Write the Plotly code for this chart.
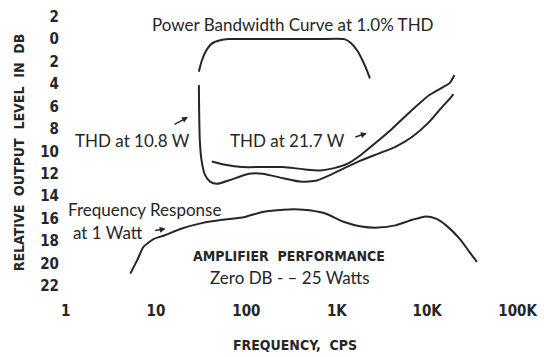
import math
import plotly.graph_objects as go

# Frequency response at 1 watt (Hz, dB below 25 W)
resp_freq = [5.2, 6.2, 7.3, 9.5, 12.3, 19, 32, 54, 90, 151, 255, 429, 720,
             1210, 1860, 2880, 4440, 6840, 9660, 12500, 16200, 22900, 29500, 35500]
resp_db = [20.9, 19.7, 18.5, 17.8, 17.5, 16.9, 16.4, 16.1, 15.9, 15.4, 15.2, 15.2, 15.5,
           16.3, 16.7, 16.8, 16.6, 16.1, 15.8, 16.0, 16.6, 17.8, 19.0, 19.85]

# Power bandwidth at 1.0% THD
pb_freq = [29.8, 31.9, 35.4, 41.4, 51.3, 63.8, 200, 600, 1210, 1440, 1710, 1950, 2180, 2320]
pb_db = [2.9, 2.0, 1.1, 0.4, 0.1, 0.0, 0.0, 0.0, 0.0, 0.36, 1.1, 2.0, 2.9, 3.5]

# THD at 10.8 W
thd10_freq = [29.8, 30.0, 30.5, 31.9, 34.8, 39.6, 47.1, 63.8, 107, 151, 255, 393, 603,
              851, 1210, 1860, 2880, 4440, 6840, 10470, 14800, 17800, 19500]
thd10_db = [4.1, 6.3, 9.0, 10.8, 12.1, 12.7, 12.9, 12.6, 12.0, 12.0, 12.4, 12.7, 12.6,
            12.1, 11.5, 10.8, 10.2, 9.6, 8.7, 7.4, 6.0, 5.3, 4.9]

# THD at 21.7 W
thd21_freq = [41.4, 58.5, 90, 151, 255, 429, 661, 933, 1318, 1860, 2630, 4070, 6840,
              10470, 14800, 17800, 20000]
thd21_db = [10.9, 11.2, 11.4, 11.4, 11.4, 11.6, 11.7, 11.5, 11.1, 10.3, 9.3, 8.0, 6.3,
            5.0, 4.3, 3.9, 3.2]

# Axis ticks
y_ticks = [-2, 0, 2, 4, 6, 8, 10, 12, 14, 16, 18, 20, 22]
y_labels = ["2", "0", "2", "4", "6", "8", "10", "12", "14", "16", "18", "20", "22"]
x_ticks = [1, 10, 100, 1000, 10000, 100000]
x_labels = ["1", "10", "100", "1K", "10K", "100K"]

INK = "#262626"
COND = "DejaVu Sans Condensed, Liberation Sans Narrow, Roboto, sans-serif"
ROUND = "Lato, Noto Sans, sans-serif"

fig = go.Figure()
line = dict(color=INK, width=2, shape="spline", smoothing=0.6)
for xs, ys in [(resp_freq, resp_db), (pb_freq, pb_db),
               (thd10_freq, thd10_db), (thd21_freq, thd21_db)]:
    fig.add_trace(go.Scatter(x=xs, y=ys, mode="lines", line=line,
                             hoverinfo="skip", showlegend=False))

# text labels placed at (frequency in Hz, dB)
notes = [
    ("Power Bandwidth Curve at 1.0% THD", 330, -1.3, ROUND, 17, "normal"),
    ("THD at 10.8 W", 5.55, 9.0, ROUND, 17, "normal"),
    ("THD at 21.7 W", 288, 9.0, ROUND, 17, "normal"),
    ("Frequency Response", 7.5, 15.2, ROUND, 17, "normal"),
    ("at 1 Watt", 2.95, 17.25, ROUND, 17, "normal"),
    ("AMPLIFIER  PERFORMANCE", 298, 19.3, COND, 14, "bold"),
    ("Zero DB - – 25 Watts", 305, 21.2, ROUND, 17, "normal"),
]
for text, f, db, fam, size, weight in notes:
    fig.add_annotation(x=math.log10(f), y=db, xref="x", yref="y", text=text,
                       showarrow=False,
                       font=dict(family=fam, size=size, color=INK, weight=weight))

# small pointer arrows next to the labels
for f, db, ax, ay in [(22.6, 6.95, -15, 8), (2150, 8.4, -13, 4), (12.8, 16.9, -12, 2)]:
    fig.add_annotation(x=math.log10(f), y=db, xref="x", yref="y", ax=ax, ay=ay, text="",
                       showarrow=True, arrowhead=2, arrowsize=0.8, arrowwidth=1.5,
                       arrowcolor=INK)

tick_font = dict(family=COND, size=15, color=INK, weight="bold")
title_font = dict(family=COND, size=14, color=INK, weight="bold")
fig.update_layout(
    width=544, height=357,
    margin=dict(l=60, r=14, t=5, b=57),
    paper_bgcolor="white", plot_bgcolor="white",
    xaxis=dict(type="log", range=[-0.062, 5.137], tickvals=x_ticks, ticktext=x_labels,
               showgrid=False, zeroline=False, showline=False, ticks="",
               tickfont=tick_font,
               title=dict(text="FREQUENCY,  CPS", standoff=21, font=title_font)),
    yaxis=dict(range=[23.25, -3.04], tickvals=y_ticks, ticktext=y_labels,
               showgrid=False, zeroline=False, showline=False, ticks="",
               tickfont=tick_font,
               title=dict(text="RELATIVE  OUTPUT  LEVEL  IN  DB", standoff=12,
                          font=title_font)),
)

fig.write_html("out.html")
